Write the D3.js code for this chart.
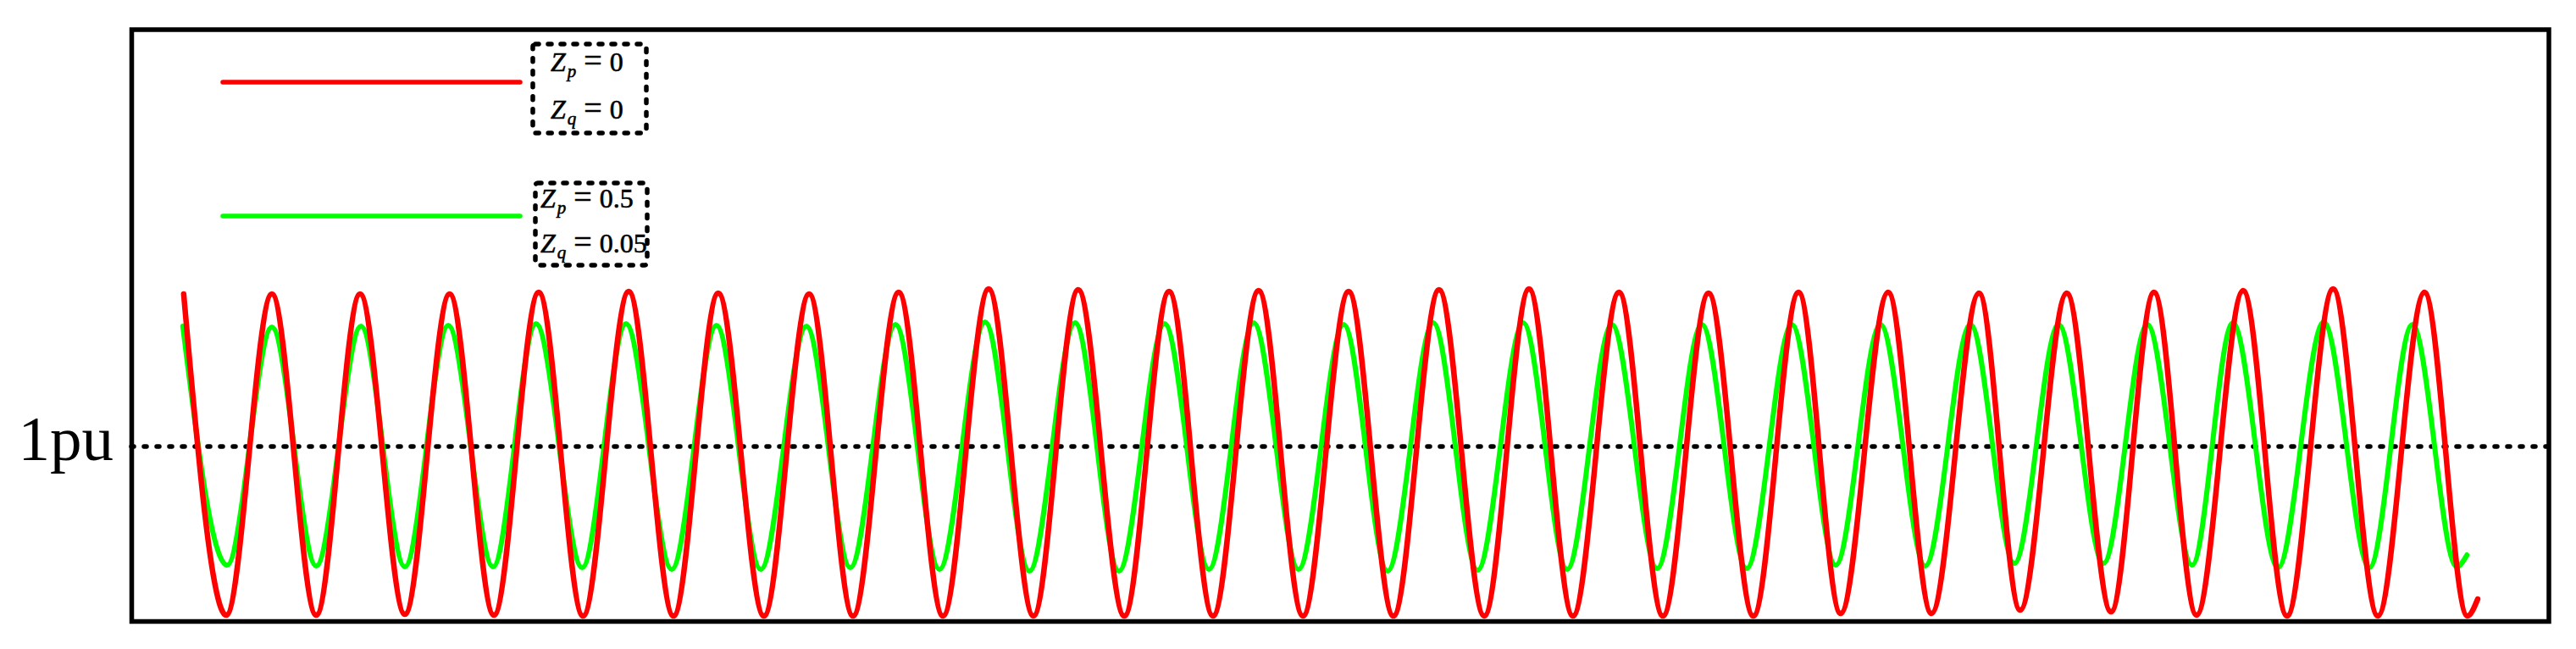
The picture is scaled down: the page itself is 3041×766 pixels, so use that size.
<!DOCTYPE html>
<html>
<head>
<meta charset="utf-8">
<script src="https://cdn.jsdelivr.net/npm/d3@7"></script>
<style>
body { margin: 0; background: #fff; }
svg { display: block; }
</style>
</head>
<body>
<svg id="chart" width="3041" height="766"></svg>
<script>
// time (ms) of every peak / trough, last entry = end of trace
var redT = [11.7, 21.2, 31.4, 41.3, 51.1, 61.1, 71.1, 81.0, 91.0, 100.9,
  111.1, 121.1, 131.1, 141.3, 151.4, 161.2, 171.4, 181.3, 191.5, 201.5,
  211.5, 221.8, 231.8, 241.6, 251.8, 261.7, 271.9, 281.9, 292.1, 302.2,
  312.2, 322.0, 332.3, 342.1, 352.3, 362.3, 372.4, 381.8, 392.4, 402.1,
  412.7, 421.9, 432.3, 442.2, 451.8, 461.3, 471.7, 481.5, 491.8, 501.8,
  512.2, 521.8, 524.1]
// value (pu) at those points, Zp = 0, Zq = 0
var redV = [1.360, 0.602, 1.360, 0.602, 1.360, 0.604, 1.360, 0.602, 1.364, 0.600,
  1.366, 0.600, 1.362, 0.600, 1.360, 0.600, 1.364, 0.600, 1.372, 0.600,
  1.370, 0.600, 1.366, 0.600, 1.368, 0.600, 1.366, 0.600, 1.370, 0.600,
  1.372, 0.600, 1.364, 0.600, 1.362, 0.600, 1.364, 0.606, 1.364, 0.606,
  1.362, 0.614, 1.362, 0.610, 1.364, 0.602, 1.368, 0.600, 1.372, 0.600,
  1.364, 0.600, 0.640]

// Zp = 0.5, Zq = 0.05
var greenT = [11.5, 21.4, 31.4, 41.3, 51.3, 61.1, 70.8, 80.8, 90.4, 100.7,
  110.5, 120.7, 130.7, 140.6, 150.8, 160.6, 170.7, 180.5, 190.7, 200.6,
  210.8, 220.6, 230.8, 240.7, 250.7, 260.7, 270.8, 280.6, 290.8, 300.7,
  310.9, 320.7, 330.7, 340.8, 350.8, 360.8, 370.9, 380.7, 390.7, 400.7,
  410.8, 420.6, 430.5, 440.5, 450.3, 460.3, 469.4, 479.5, 489.7, 499.9,
  509.5, 519.4, 521.7]
var greenV = [1.284, 0.720, 1.282, 0.718, 1.284, 0.716, 1.286, 0.716, 1.290, 0.714,
  1.290, 0.710, 1.286, 0.710, 1.284, 0.714, 1.288, 0.710, 1.294, 0.706,
  1.292, 0.706, 1.290, 0.710, 1.292, 0.710, 1.288, 0.706, 1.292, 0.708,
  1.292, 0.710, 1.288, 0.712, 1.288, 0.712, 1.288, 0.720, 1.288, 0.718,
  1.288, 0.724, 1.288, 0.724, 1.288, 0.720, 1.292, 0.714, 1.294, 0.714,
  1.288, 0.716, 0.744]

var refLevels = [1]
var zpLabels = ["0", "0.5"]
var zqLabels = ["0", "0.05"]
var seriesColors = ["#ff0000", "#00ff00"]

var serif = "'Times New Roman', 'Liberation Serif', serif"
var svg = d3.select("#chart")

var x = d3.scaleLinear().domain([0, 540]).range([155, 3009])
var y = d3.scaleLinear().domain([0.588, 1.984]).range([733, 35])

// 1pu reference
svg.selectAll(".ref").data(refLevels).enter().append("line")
  .attr("x1", x(0)).attr("x2", x(540))
  .attr("y1", d => y(d)).attr("y2", d => y(d))
  .attr("stroke", "#000").attr("stroke-width", 5.5)
  .attr("stroke-dasharray", "3 12").attr("stroke-linecap", "round")

var yAxis = d3.axisLeft(y).tickValues(refLevels).tickSize(0).tickPadding(21)
  .tickFormat(d => d + "pu")
svg.append("g").attr("transform", "translate(155,0)").call(yAxis)
  .call(g => g.select(".domain").remove())
  .selectAll("text")
  .attr("font-family", serif).attr("font-size", 75).attr("fill", "#000").attr("dy", "0.2em")

// waveforms, green under red
var line = d3.line()
  .x(d => x(d[0])).y(d => y(d[1]))
  .curve(d3.curveMonotoneX)

var greenPts = d3.zip(greenT, greenV)
var redPts = d3.zip(redT, redV)

svg.append("path").datum(greenPts).attr("d", line)
  .attr("fill", "none").attr("stroke", seriesColors[1]).attr("stroke-width", 6)
  .attr("stroke-linejoin", "round").attr("stroke-linecap", "round")
svg.append("path").datum(redPts).attr("d", line)
  .attr("fill", "none").attr("stroke", seriesColors[0]).attr("stroke-width", 6.5)
  .attr("stroke-linejoin", "round").attr("stroke-linecap", "round")

// legend
var legendY = [97, 255]
var boxes = [[629, 52, 134, 105], [632, 216, 132, 97]]
var textX = [650, 638]
var baseLines = [[84, 140], [245, 298]]

function mathLabel(px, py, sub, val) {
  var t = svg.append("text").attr("x", px).attr("y", py)
    .attr("font-family", serif).attr("font-size", 32).attr("fill", "#000")
    .attr("stroke", "#000").attr("stroke-width", 0.6)
  t.append("tspan").attr("font-style", "italic").text("Z")
  t.append("tspan").attr("font-style", "italic").attr("font-size", 21)
    .attr("dx", 2).attr("dy", 7).text(sub)
  t.append("tspan").attr("font-size", 38).attr("dx", 9).attr("dy", -7).text("=")
  t.append("tspan").attr("dx", 9).text(val)
}

seriesColors.forEach(function(c, i) {
  svg.append("line")
    .attr("x1", 263).attr("x2", 614)
    .attr("y1", legendY[i]).attr("y2", legendY[i])
    .attr("stroke", c).attr("stroke-width", 5.5).attr("stroke-linecap", "round")
  var b = boxes[i]
  svg.append("rect")
    .attr("x", b[0]).attr("y", b[1]).attr("width", b[2]).attr("height", b[3])
    .attr("rx", 3)
    .attr("fill", "none").attr("stroke", "#000").attr("stroke-width", 5.5)
    .attr("stroke-dasharray", "4 11").attr("stroke-linecap", "round")
  mathLabel(textX[i], baseLines[i][0], "p", zpLabels[i])
  mathLabel(textX[i], baseLines[i][1], "q", zqLabels[i])
})

// frame
svg.append("rect")
  .attr("x", 155.5).attr("y", 35).attr("width", 2853.5).attr("height", 698.5)
  .attr("fill", "none").attr("stroke", "#000").attr("stroke-width", 5.5)
</script>
</body>
</html>
